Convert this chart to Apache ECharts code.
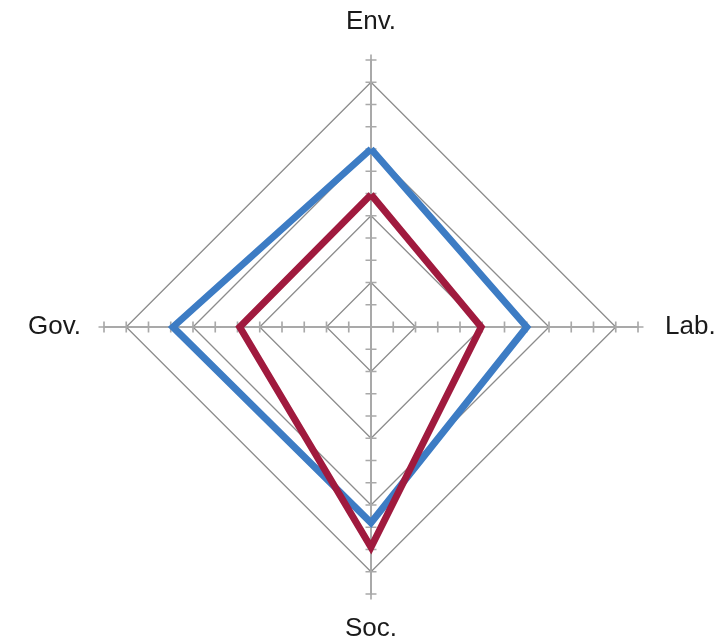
<!DOCTYPE html>
<html>
<head>
<meta charset="utf-8">
<script src="https://cdn.jsdelivr.net/npm/echarts@6/dist/echarts.min.js"></script>
<style>
html,body{margin:0;padding:0;background:#fff;}
#c{width:728px;height:642px;}
</style>
</head>
<body>
<div id="c"></div>
<script>
// Axes in counter-clockwise order starting at the top
const indicators = ['Env.', 'Gov.', 'Soc.', 'Lab.'];
const axisMax = 12;
const tickLevels = [1, 2, 3, 4, 5, 6, 7, 8, 9, 10, 11, 12];
const gridLevels = [2, 5, 8, 11];
const seriesBlue = [8.0, 8.9, 8.8, 7.0];
const seriesRed = [5.95, 5.9, 9.9, 4.95];

const chart = echarts.init(document.getElementById('c'), null, {renderer: 'canvas'});

const center = [371, 327];
const radius = 267;
const axisGray = '#a9a9a9';
const indicatorList = indicators.map(n => ({name: n, min: 0, max: axisMax}));
const nameKeys = {'Env.': 'top', 'Gov.': 'left', 'Soc.': 'bottom', 'Lab.': 'right'};
const baseName = {color: '#1a1a1a', fontFamily: 'Liberation Sans, Arial, sans-serif', fontSize: 26};

// plus-shaped tick mark: one arm lies on the axis line, the other crosses it
const crossTick = 'path://M4.25,0H5.75V4.25H10V5.75H5.75V10H4.25V5.75H0V4.25H4.25Z';

const gridSeries = gridLevels.map(l => ({
  type: 'radar', radarIndex: 0, silent: true, symbol: 'none', z: 1,
  lineStyle: {color: '#8c8c8c', width: 1.3},
  data: [{value: indicators.map(() => l)}]
}));

const tickSeries = tickLevels.map(l => ({
  type: 'radar', radarIndex: 0, silent: true, z: 2,
  symbol: crossTick, symbolSize: 11,
  itemStyle: {color: axisGray},
  lineStyle: {width: 0, opacity: 0},
  data: [{value: indicators.map(() => l)}]
}));

chart.setOption({
  animation: false,
  radar: {
    center: center,
    radius: radius,
    startAngle: 90,
    shape: 'polygon',
    splitNumber: 12,
    indicator: indicatorList,
    axisName: Object.assign({
      formatter: (name) => '{' + nameKeys[name] + '|' + name + '}',
      rich: {
        top: Object.assign({padding: [0, 0, 3, 0]}, baseName),
        right: Object.assign({padding: [0, 0, 0, 5]}, baseName),
        bottom: Object.assign({padding: [0, 0, 0, 0]}, baseName),
        left: Object.assign({padding: [0, 1, 0, 0]}, baseName)
      }
    }, baseName),
    nameGap: 22,
    axisLine: {show: true, lineStyle: {color: axisGray, width: 2}},
    axisTick: {show: false},
    axisLabel: {show: false},
    splitLine: {show: false},
    splitArea: {show: false}
  },
  series: gridSeries.concat(tickSeries, [
    {
      type: 'radar', radarIndex: 0, symbol: 'none', z: 3,
      lineStyle: {color: '#3d7cc4', width: 7, join: 'miter'},
      data: [{value: seriesBlue}]
    },
    {
      type: 'radar', radarIndex: 0, symbol: 'none', z: 4,
      lineStyle: {color: '#a01a3e', width: 7, join: 'miter'},
      data: [{value: seriesRed}]
    }
  ])
});
</script>
</body>
</html>
